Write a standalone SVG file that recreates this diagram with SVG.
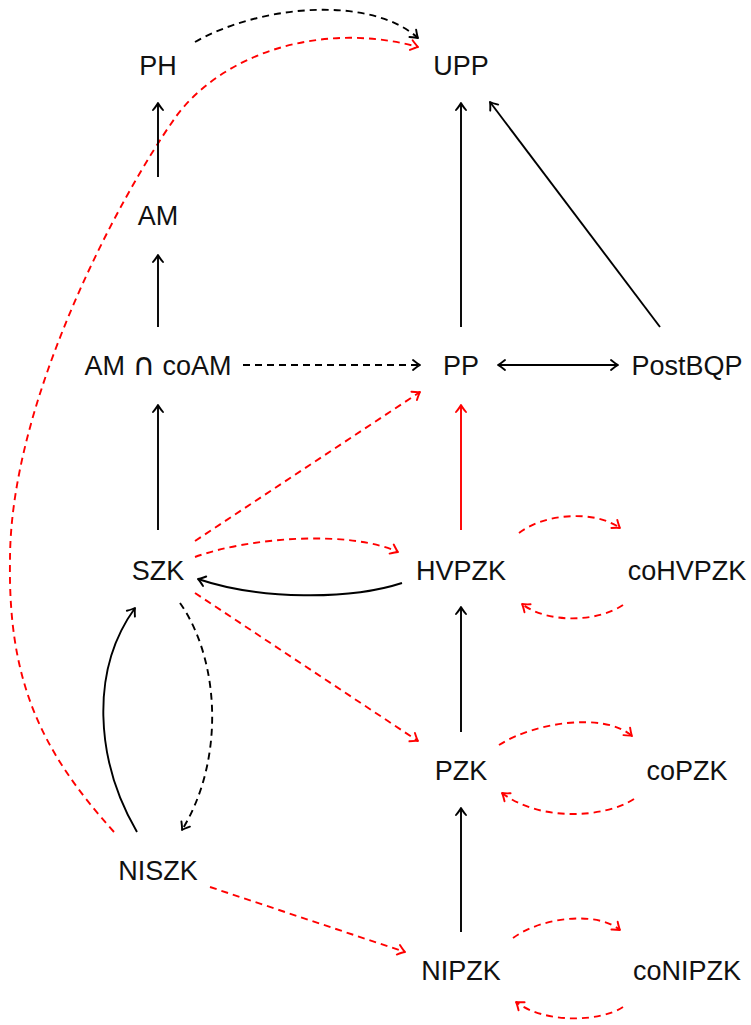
<svg xmlns="http://www.w3.org/2000/svg" width="751" height="1025" viewBox="0 0 751 1025">
<style>
text{font-family:"Liberation Sans",Arial,sans-serif;font-size:27px;fill:#111;text-anchor:middle}
.cap{font-family:"DejaVu Sans",sans-serif;font-size:31px}
.e{fill:none;stroke:#000;stroke-width:1.9}
.r{stroke:#f00}
.d{stroke-dasharray:7 5}
.k{marker-end:url(#ak)}
.kr{marker-end:url(#ar)}
</style>
<defs>
<marker id="ak" viewBox="-9 -7 11 14" refX="0" refY="0" markerWidth="11" markerHeight="14" markerUnits="userSpaceOnUse" orient="auto-start-reverse">
<path d="M-7,-5 Q-2.2,-1.1 0,0 Q-2.2,1.1 -7,5" fill="none" stroke="#000" stroke-width="1.9" stroke-linecap="round" stroke-linejoin="round"/>
</marker>
<marker id="ar" viewBox="-9 -7 11 14" refX="0" refY="0" markerWidth="11" markerHeight="14" markerUnits="userSpaceOnUse" orient="auto-start-reverse">
<path d="M-7,-5 Q-2.2,-1.1 0,0 Q-2.2,1.1 -7,5" fill="none" stroke="#f00" stroke-width="1.9" stroke-linecap="round" stroke-linejoin="round"/>
</marker>
</defs>
<rect width="751" height="1025" fill="#fff"/>
<g id="connectors">
<path class="e d k" d="M195,42 C260,5 370,-5 418,38"/>
<path class="e r d kr" d="M114,832 C40,750 8,680 10,560 C10,400 121,194 175,118 C220,55 320,20 418,47"/>
<path class="e k" d="M158,177 L158,103"/>
<path class="e k" d="M158,327 L158,255"/>
<path class="e k" d="M158,530 L158,405"/>
<path class="e k" d="M461,327 L461,103"/>
<path class="e k" d="M660,327 L490,102"/>
<path class="e d k" d="M243,365 L420,365"/>
<path class="e k" style="marker-start:url(#ak)" d="M498,365 L618,365"/>
<path class="e r kr" d="M461,530 L461,405"/>
<path class="e r d kr" d="M195,541 L420,392"/>
<path class="e r d kr" d="M195,557 C250,537 350,530 398,552"/>
<path class="e k" d="M402,583 C350,600 260,600 198,579"/>
<path class="e r d kr" d="M195,593 L418,741"/>
<path class="e d k" d="M180,603 C220,660 225,760 182,830"/>
<path class="e k" d="M137,832 C95,760 90,670 135,608"/>
<path class="e r d kr" d="M519,533 C545,513 595,510 620,528"/>
<path class="e r d kr" d="M623,605 C598,622 548,624 522,604"/>
<path class="e k" d="M461,732 L461,607"/>
<path class="e r d kr" d="M499,745 C535,722 605,712 632,736"/>
<path class="e r d kr" d="M634,799 C605,818 540,822 502,793"/>
<path class="e k" d="M461,932 L461,808"/>
<path class="e r d kr" d="M513,938 C540,918 595,910 620,930"/>
<path class="e r d kr" d="M623,1007 C600,1022 545,1024 516,1002"/>
<path class="e r d kr" d="M210,887 L405,952"/>
</g>
<g id="PH"><text x="158" y="74.5">PH</text></g>
<g id="UPP"><text x="461" y="74.5">UPP</text></g>
<g id="AM"><text x="158" y="224.5">AM</text></g>
<g id="AMcapcoAM"><text x="158" y="374.5">AM <tspan class="cap">∩</tspan> coAM</text></g>
<g id="PP"><text x="461" y="374.5">PP</text></g>
<g id="PostBQP"><text x="687" y="374.5">PostBQP</text></g>
<g id="SZK"><text x="158" y="579.5">SZK</text></g>
<g id="HVPZK"><text x="461" y="579.5">HVPZK</text></g>
<g id="coHVPZK"><text x="687" y="579.5">coHVPZK</text></g>
<g id="PZK"><text x="461" y="779.5">PZK</text></g>
<g id="coPZK"><text x="687" y="779.5">coPZK</text></g>
<g id="NISZK"><text x="158" y="879.5">NISZK</text></g>
<g id="NIPZK"><text x="461" y="979.5">NIPZK</text></g>
<g id="coNIPZK"><text x="687" y="979.5">coNIPZK</text></g>
</svg>
